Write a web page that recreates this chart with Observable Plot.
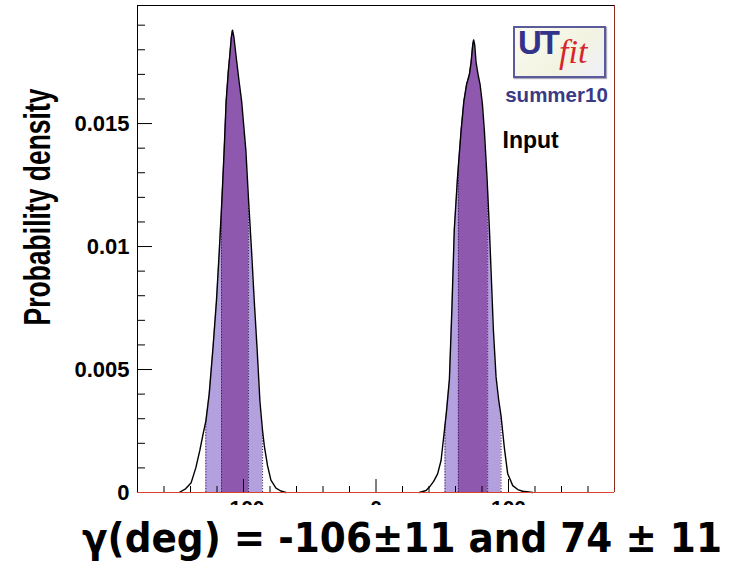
<!DOCTYPE html>
<html>
<head>
<meta charset="utf-8">
<script src="https://cdn.jsdelivr.net/npm/d3@7"></script>
<script src="https://cdn.jsdelivr.net/npm/@observablehq/plot@0.6"></script>
<style>
  body { margin: 0; background: white; }
  #wrap { position: relative; width: 729px; height: 563px; overflow: hidden; background: white; }
  #logo { position: absolute; left: 513px; top: 26px; width: 93px; height: 52px; box-sizing: border-box;
          border: 2px solid #5b5b9c; background: linear-gradient(135deg, #fbfbf0, #f3f3e2 60%, #eef0fa);
          box-shadow: 1px 1px 1px #aab; }
  #logo .ut { position: absolute; left: 3px; top: -4px; font: bold 33px "Liberation Sans", Arial, sans-serif; color: #33338a; letter-spacing: -2px; }
  #logo .fit { position: absolute; left: 44px; top: 5px; font: italic 34px "Liberation Serif", "DejaVu Serif", serif; color: #d6262b; }
  #title { display: block; }
</style>
</head>
<body>
<div id="wrap">
  <div id="chart"></div>
  <svg id="title" width="729" height="58">
    <text x="402" y="47" text-anchor="middle" font-family="DejaVu Sans, sans-serif" font-weight="bold" font-size="41"
          textLength="640" lengthAdjust="spacingAndGlyphs" fill="black">γ(deg) = -106±11 and 74 ± 11</text>
  </svg>
  <div id="logo"><span class="ut">UT</span><span class="fit">fit</span></div>
</div>
<script>
// ---- data ----
const xDomain = [-180, 180];
const yDomain = [0, 0.0198];

const peak1Deg = [-148.6,-143.7,-139.5,-136.0,-133.0,-130.4,-128.4,-125.9,-123.0,-120.4,-118.3,-116.3,-114.6,-113.1,-111.5,-110.3,-109.2,-108.3,-107.2,-105.3,-103.3,-101.4,-98.2,-96.2,-94.0,-91.9,-89.7,-87.6,-85.6,-84.3,-81.9,-79.3,-75.5,-71.8,-68.0];
const peak1Dens = [0,0.00015,0.0004,0.001,0.0017,0.0024,0.0029,0.0040,0.0059,0.0078,0.0098,0.0119,0.0139,0.0159,0.0171,0.0178,0.0185,0.0188,0.0185,0.0176,0.0167,0.0159,0.0139,0.0119,0.0099,0.0078,0.0058,0.0037,0.0025,0.0019,0.0011,0.0005,0.00018,0.00006,0];

const peak2Deg = [32.7,37.8,40.3,43.5,46.5,49.1,51.6,53.2,55.4,57.3,59.1,61.5,64.2,66.3,68.4,70.5,71.8,73.0,73.7,74.5,75.5,77.0,78.5,80.3,81.8,83.8,85.6,88.6,90.6,92.5,94.4,96.9,99.4,103.2,107.0,110.7,118.3];
const peak2Dens = [0,0.00008,0.00022,0.00045,0.00076,0.0013,0.0025,0.0033,0.0046,0.0075,0.0107,0.0128,0.0147,0.0159,0.0166,0.0170,0.0175,0.0182,0.0184,0.0182,0.0175,0.0170,0.0166,0.0158,0.0147,0.0128,0.0107,0.0066,0.0047,0.0038,0.0031,0.0018,0.00076,0.00028,0.00012,0.00005,0];

// 95% and 68% probability intervals, one entry per peak
const band95Lo = [-128.4, 52.1];
const band95Hi = [-85.6, 94.4];
const band68Lo = [-116.6, 62.2];
const band68Hi = [-96.2, 84.3];

const xMajorTicks = [-100, 0, 100];
const xMinorTicks = [-160,-140,-120,-80,-60,-40,-20,20,40,60,80,120,140,160];
const yMajorTicks = [0, 0.005, 0.01, 0.015];
const yMajorLabels = ["0", "0.005", "0.01", "0.015"];
const yMinorTicks = [0.001,0.002,0.003,0.004,0.006,0.007,0.008,0.009,0.011,0.012,0.013,0.014,0.016,0.017,0.018,0.019];

const yTitle = "Probability density";
const tagText = "summer10";
const inputText = "Input";

// ---- derived tables ----
const peaks = [{xs: peak1Deg, ys: peak1Dens}, {xs: peak2Deg, ys: peak2Dens}];
const curveOf = (p, k) => p.xs.map((x, i) => ({x, y: p.ys[i], k}));
function densAt(p, x) {
  const i = d3.bisectRight(p.xs, x);
  if (i <= 0) return p.ys[0];
  if (i >= p.xs.length) return p.ys[p.ys.length - 1];
  const t = (x - p.xs[i - 1]) / (p.xs[i] - p.xs[i - 1]);
  return p.ys[i - 1] + t * (p.ys[i] - p.ys[i - 1]);
}
function bandOf(p, lo, hi, k) {
  const pts = [{x: lo, y: densAt(p, lo), k}];
  p.xs.forEach((x, i) => { if (x > lo && x < hi) pts.push({x, y: p.ys[i], k}); });
  pts.push({x: hi, y: densAt(p, hi), k});
  return pts;
}
const curves = peaks.flatMap((p, k) => curveOf(p, k));
const area95 = peaks.flatMap((p, k) => bandOf(p, band95Lo[k], band95Hi[k], k));
const area68 = peaks.flatMap((p, k) => bandOf(p, band68Lo[k], band68Hi[k], k));
const edges = peaks.flatMap((p, k) => [band95Lo[k], band95Hi[k], band68Lo[k], band68Hi[k]].map(x => ({x, y: densAt(p, x)})));

const W = 729, H = 505, mL = 137, mR = 115, mT = 5, mB = 13;
const fw = W - mL - mR, fh = H - mT - mB;

const light = "#b3a0de", dark = "#8d58ad";

const chart = Plot.plot({
  width: W, height: H,
  marginLeft: mL, marginRight: mR, marginTop: mT, marginBottom: mB,
  style: {fontFamily: "'Liberation Sans', Arial, sans-serif", overflow: "hidden", background: "white"},
  x: {domain: xDomain},
  y: {domain: yDomain},
  marks: [
    Plot.areaY(area95, {x: "x", y: "y", z: "k", fill: light}),
    Plot.areaY(area68, {x: "x", y: "y", z: "k", fill: dark}),
    Plot.ruleX(edges, {x: "x", y1: 0, y2: "y", stroke: "#3a1d55", strokeWidth: 1, strokeDasharray: "1.2,1.6"}),
    Plot.line(curves, {x: "x", y: "y", z: "k", stroke: "black", strokeWidth: 1.4}),
    Plot.tickX(xMinorTicks, {insetTop: fh - 6, stroke: "black"}),
    Plot.tickX(xMajorTicks, {insetTop: fh - 13, stroke: "black"}),
    Plot.tickY(yMinorTicks, {insetRight: fw - 8, stroke: "black"}),
    Plot.tickY(yMajorTicks, {insetRight: fw - 15, stroke: "black"}),
    Plot.ruleX([xDomain[0]], {stroke: "black"}),
    Plot.ruleX([xDomain[1]], {stroke: "#8a2c22"}),
    Plot.ruleY([yDomain[1]], {stroke: "black"}),
    Plot.ruleY([0], {stroke: "#d9442b"}),
    Plot.axisX({ticks: xMajorTicks, tickSize: 0, tickPadding: 8, fontSize: 21, fontWeight: "bold", tickFormat: d => String(d), label: null}),
    Plot.axisY({ticks: yMajorTicks, tickSize: 0, tickPadding: 8, fontSize: 22, fontWeight: "bold", tickFormat: d => yMajorLabels[yMajorTicks.indexOf(d)], label: null}),
    Plot.text([yTitle], {frameAnchor: "top-left", lineAnchor: "middle", rotate: -90, textAnchor: "end", dx: -99, dy: 83, fontSize: 36, fontWeight: "bold", fill: "black"}),
    Plot.text([tagText], {frameAnchor: "top-right", lineAnchor: "middle", textAnchor: "middle", dx: -58, dy: 89.5, fontSize: 20.5, fontWeight: "bold", fill: "#3a3a86"}),
    Plot.text([inputText], {frameAnchor: "top-right", lineAnchor: "middle", textAnchor: "start", dx: -112, dy: 135, fontSize: 23, fontWeight: "bold", fill: "black"})
  ]
});
// squeeze the y title to its length in the reference
d3.select(chart).selectAll("text").filter(function() { return this.textContent === yTitle; })
  .attr("textLength", 237).attr("lengthAdjust", "spacingAndGlyphs");
document.getElementById("chart").appendChild(chart);
</script>
</body>
</html>
